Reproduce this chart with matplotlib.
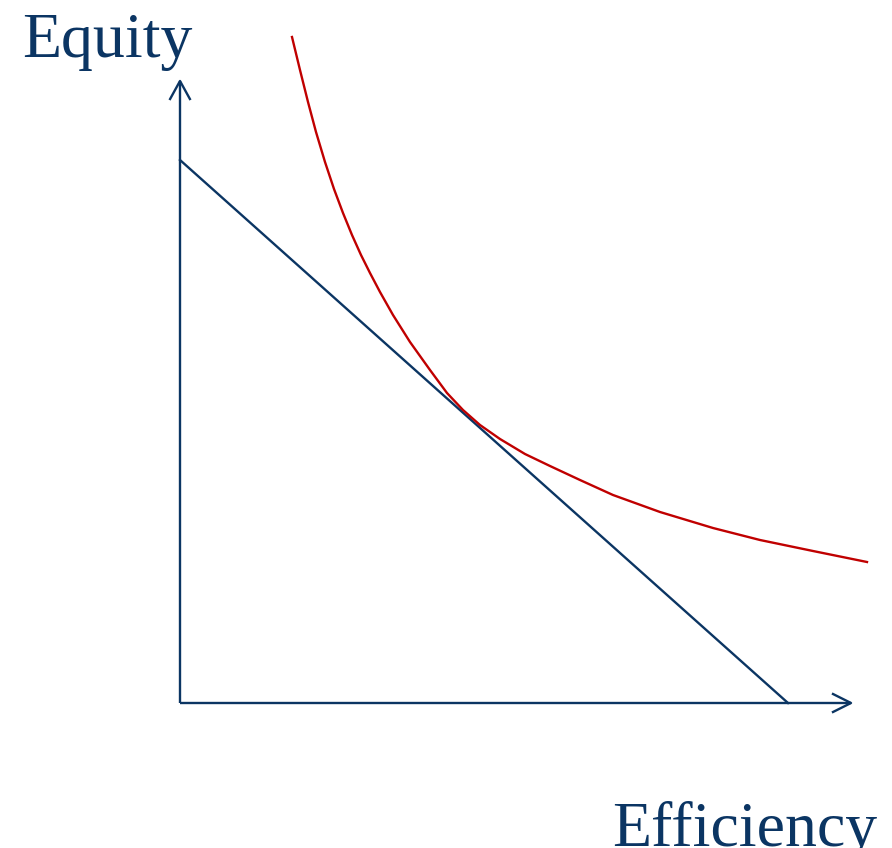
import numpy as np
import matplotlib.pyplot as plt

# Values, in pixel units of the 892x848 canvas (y grows down)
curve_x = [292, 300, 308, 316, 325, 334, 343, 352, 361, 370, 380, 393, 410, 430,
           447, 463, 480, 500, 525, 550, 580, 613, 660, 713, 760, 813, 867]
curve_y = [37, 70, 102, 132, 162, 189, 213, 235, 255, 273, 292, 315, 342, 370,
           393, 410, 425, 439, 454, 466, 480, 495, 512, 528, 540, 551, 562]

budget_x = [180, 788]
budget_y = [160, 703]

origin = (180, 703)
x_axis_end = 851
y_axis_end = 81

navy = '#0b3563'
red = '#c00000'

fig = plt.figure(figsize=(8.92, 8.48), dpi=100)
ax = fig.add_axes([0, 0, 1, 1])
ax.set_xlim(0, 892)
ax.set_ylim(848, 0)
ax.axis('off')

# axes with open arrow heads
lw = 1.7
ax.plot([origin[0], x_axis_end], [origin[1], origin[1]], color=navy, lw=lw,
        solid_capstyle='butt')
ax.plot([origin[0], origin[0]], [origin[1], y_axis_end], color=navy, lw=lw,
        solid_capstyle='butt')
head_len, head_half = 18, 9
ax.plot([x_axis_end - head_len, x_axis_end, x_axis_end - head_len],
        [origin[1] - head_half, origin[1], origin[1] + head_half],
        color=navy, lw=lw)
ax.plot([origin[0] - head_half * 1.1, origin[0], origin[0] + head_half * 1.1],
        [y_axis_end + head_len, y_axis_end, y_axis_end + head_len],
        color=navy, lw=lw)

# budget line and indifference curve
ax.plot(budget_x, budget_y, color=navy, lw=lw)
ax.plot(curve_x, curve_y, color=red, lw=lw, solid_joinstyle='round')

ax.text(22, 57, 'Equity', fontfamily='Liberation Serif', fontsize=46,
        color=navy, ha='left', va='baseline')
ax.text(612, 846, 'Efficiency', fontfamily='Liberation Serif', fontsize=46,
        color=navy, ha='left', va='baseline')

fig.savefig('out.png', dpi=100)
